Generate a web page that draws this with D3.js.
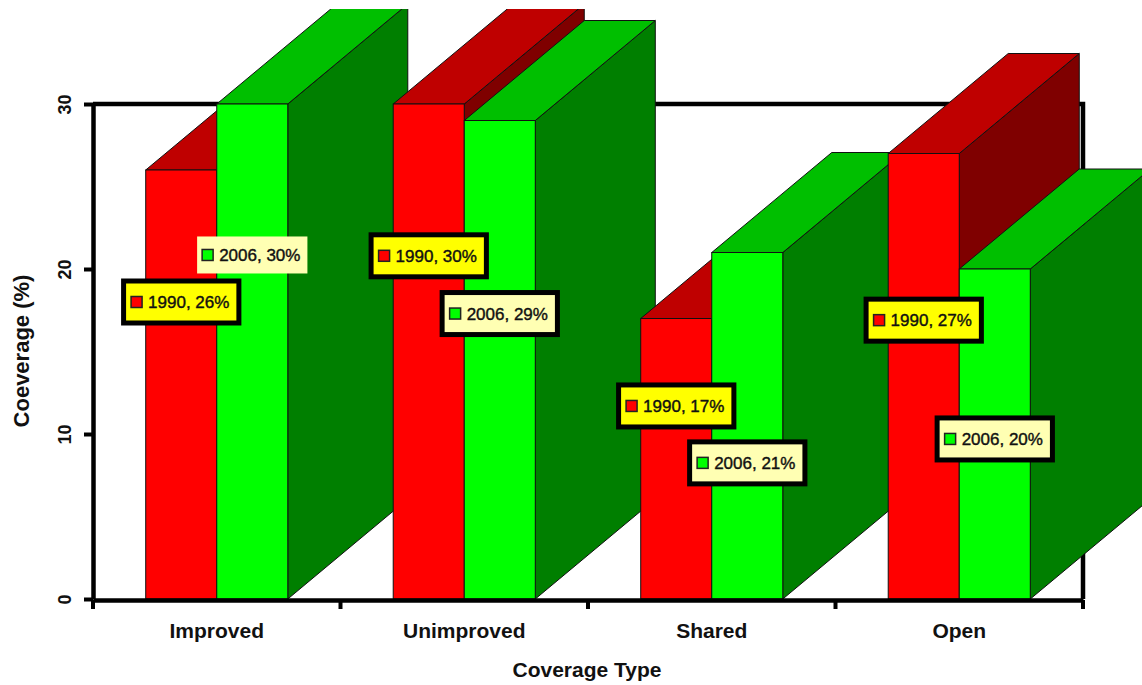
<!DOCTYPE html>
<html>
<head>
<meta charset="utf-8">
<script src="https://cdn.jsdelivr.net/npm/d3@7"></script>
<style>
  html, body { margin: 0; padding: 0; background: #fff; }
  svg { display: block; font-family: "Liberation Sans", Arial, sans-serif; }
</style>
</head>
<body>
<script>
// Coverage by type, 1990 vs 2006
const categories = ["Improved", "Unimproved", "Shared", "Open"];
const seriesNames = ["1990", "2006"];
const values1990 = [26, 30, 17, 27];
const values2006 = [30, 29, 21, 20];
const yTicks = [0, 10, 20, 30];

// Height (in axis units) at which each value callout sits over its bar
const labelLevel1990 = [18.0, 20.8, 11.7, 16.9];
const labelLevel2006 = [20.85, 17.3, 8.25, 9.7];
// Callouts drawn with a heavy black frame
const labelFramed1990 = [true, true, true, true];
const labelFramed2006 = [false, true, true, true];

const W = 1142, H = 685;
const DX = 120, DY = 100; // oblique depth of each bar

const faceColors = {
  "1990": { front: "#ff0000", top: "#bf0000", side: "#7f0000", callout: "#ffff00" },
  "2006": { front: "#00ff00", top: "#00bf00", side: "#007f00", callout: "#ffffb3" }
};

const seriesValues = { "1990": values1990, "2006": values2006 };
const seriesLevels = { "1990": labelLevel1990, "2006": labelLevel2006 };
const seriesFramed = { "1990": labelFramed1990, "2006": labelFramed2006 };

const svg = d3.select("body").append("svg")
  .attr("width", W).attr("height", H);

const x = d3.scaleBand().domain(categories)
  .range([93, 1083]).paddingInner(0.426).paddingOuter(0.213);
const xs = d3.scaleBand().domain(seriesNames).range([0, x.bandwidth()]);
const y = d3.scaleLinear().domain([0, 30]).range([599, 104]);

svg.append("defs").append("clipPath").attr("id", "plotClip")
  .append("rect").attr("x", 0).attr("y", 9).attr("width", W).attr("height", H - 9);

const root = svg.append("g").attr("clip-path", "url(#plotClip)");

// Plot frame behind the bars (top and right edges)
const [x0r, x1r] = x.range();
root.append("path")
  .attr("d", `M${x0r},${y(30)}H${x1r}V${y(0)}`)
  .attr("fill", "none").attr("stroke", "#000").attr("stroke-width", 4.5);

// Bars, drawn left to right so nearer bars cover the sides of earlier ones
const bars = [];
categories.forEach((c, i) => {
  seriesNames.forEach(s => bars.push({ cat: c, series: s, value: seriesValues[s][i], i }));
});

const barG = root.append("g").selectAll("g").data(bars).join("g");
barG.each(function (d) {
  const g = d3.select(this);
  const bx = x(d.cat) + xs(d.series);
  const bw = xs.bandwidth();
  const yt = y(d.value), yb = y(0);
  const col = faceColors[d.series];
  const line = d3.line();
  g.append("path")
    .attr("d", line([[bx + bw, yt], [bx + bw + DX, yt - DY], [bx + bw + DX, yb - DY], [bx + bw, yb]]) + "Z")
    .attr("fill", col.side).attr("stroke", "#111").attr("stroke-width", 1);
  g.append("path")
    .attr("d", line([[bx, yt], [bx + DX, yt - DY], [bx + bw + DX, yt - DY], [bx + bw, yt]]) + "Z")
    .attr("fill", col.top).attr("stroke", "#111").attr("stroke-width", 1);
  g.append("rect")
    .attr("x", bx).attr("y", yt).attr("width", bw).attr("height", yb - yt)
    .attr("fill", col.front).attr("stroke", "#111").attr("stroke-width", 1);
});

// Y axis
const yAxis = svg.append("g").attr("transform", `translate(${x0r},0)`)
  .call(d3.axisLeft(y).tickValues(yTicks).tickSize(9).tickSizeOuter(0));
yAxis.select(".domain").attr("stroke", "#000").attr("stroke-width", 4.5);
yAxis.selectAll(".tick line").attr("stroke", "#000").attr("stroke-width", 4);
yAxis.selectAll(".tick text")
  .attr("x", null).attr("y", null).attr("dy", null)
  .attr("transform", "translate(-22,0) rotate(-90)")
  .attr("text-anchor", "middle")
  .attr("font-size", 18).attr("font-weight", "bold").attr("fill", "#111");

// X axis
const xAxis = svg.append("g").attr("transform", `translate(0,600)`)
  .call(d3.axisBottom(x).tickSize(0).tickSizeOuter(0));
xAxis.select(".domain").attr("stroke", "#000").attr("stroke-width", 4.5);
xAxis.selectAll(".tick text")
  .attr("y", 38).attr("dy", null)
  .attr("font-size", 21).attr("font-weight", "bold").attr("fill", "#111");
xAxis.selectAll(".boundary")
  .data(d3.range(categories.length + 1).map(k => x0r + k * x.step()))
  .join("line").attr("class", "boundary")
  .attr("x1", d => d).attr("x2", d => d).attr("y1", 0).attr("y2", 9)
  .attr("stroke", "#000").attr("stroke-width", 4);

// Axis titles
svg.append("text")
  .attr("transform", `translate(29,351) rotate(-90)`)
  .attr("text-anchor", "middle").attr("font-size", 22).attr("font-weight", "bold")
  .attr("fill", "#111").text("Coeverage (%)");
svg.append("text")
  .attr("x", (x0r + x1r) / 2 - 1).attr("y", 677)
  .attr("text-anchor", "middle").attr("font-size", 21).attr("font-weight", "bold")
  .attr("fill", "#111").text("Coverage Type");

// Value callouts
const calloutG = svg.append("g");
bars.forEach(d => {
  const cx = x(d.cat) + xs(d.series) + xs.bandwidth() / 2;
  const cy = y(seriesLevels[d.series][d.i]);
  const framed = seriesFramed[d.series][d.i];
  const col = faceColors[d.series];
  const g = calloutG.append("g").attr("transform", `translate(${cx},${cy})`);
  const outer = g.append("rect");
  const inner = g.append("rect");
  const marker = g.append("rect");
  const t = g.append("text")
    .attr("font-size", 17).attr("fill", "#111").attr("dy", "0.35em")
    .attr("stroke", "#111").attr("stroke-width", 0.4)
    .text(`${d.series}, ${d.value}%`);
  const tl = t.node().getComputedTextLength();
  const bw = 5 + 11 + 6 + tl + 7, bh = 37;
  const left = -bw / 2;
  if (framed) {
    outer.attr("x", left - 5).attr("y", -bh / 2 - 5)
      .attr("width", bw + 10).attr("height", bh + 10).attr("fill", "#000");
  } else {
    outer.remove();
  }
  inner.attr("x", left).attr("y", -bh / 2).attr("width", bw).attr("height", bh)
    .attr("fill", col.callout);
  marker.attr("x", left + 5).attr("y", -5.5).attr("width", 11).attr("height", 11)
    .attr("fill", col.front).attr("stroke", "#222").attr("stroke-width", 1.5);
  t.attr("x", left + 22);
});
</script>
</body>
</html>
